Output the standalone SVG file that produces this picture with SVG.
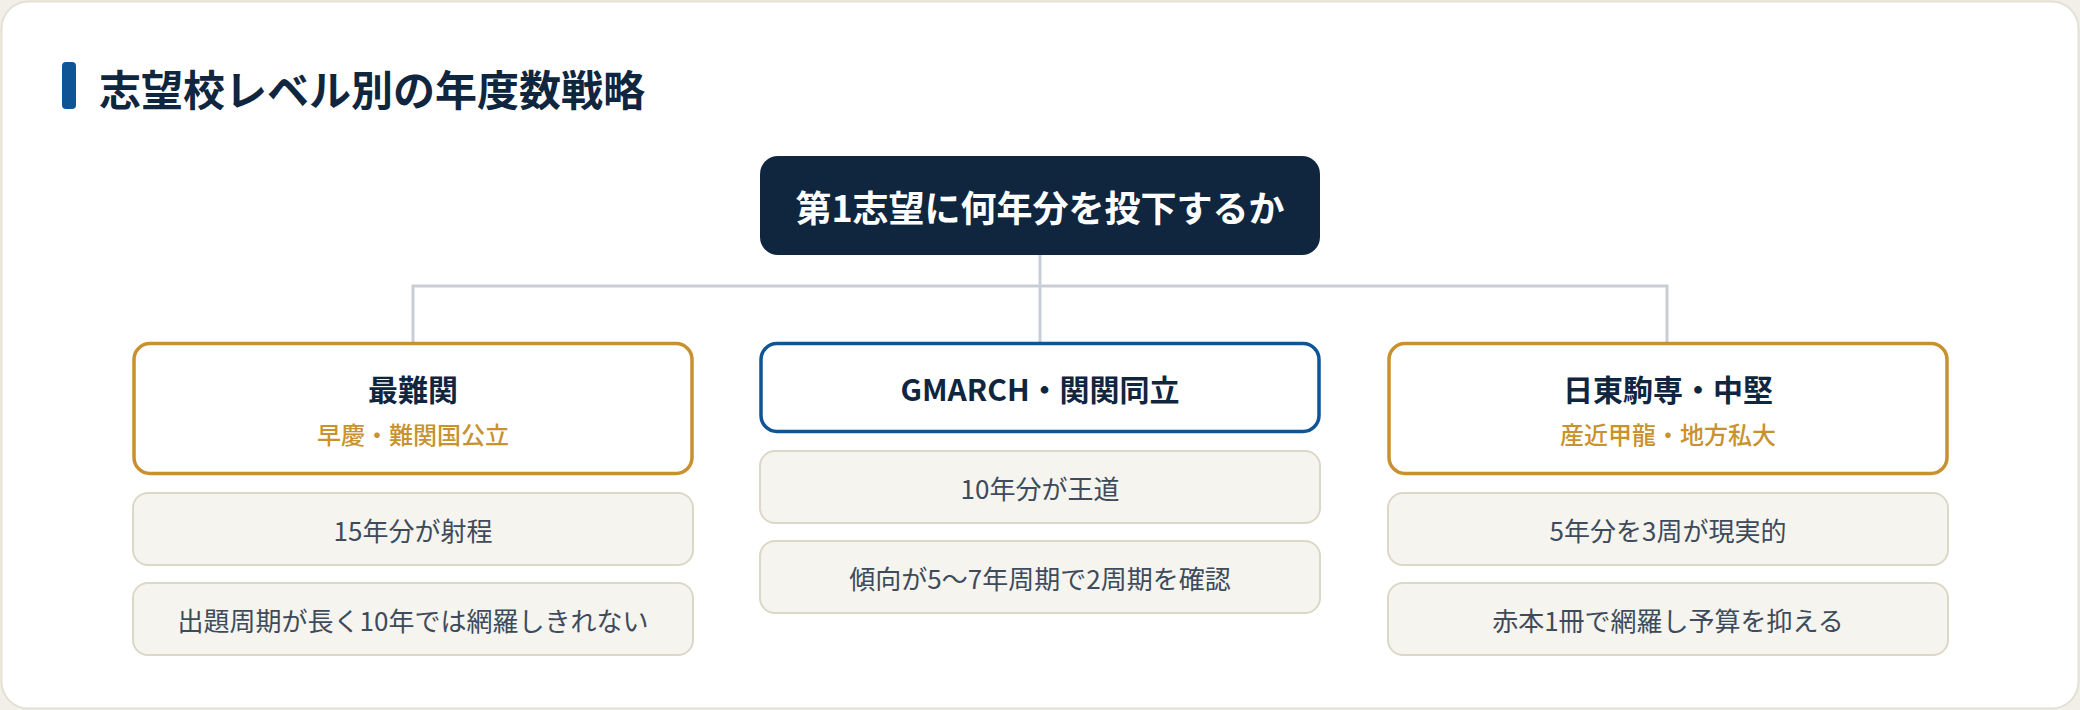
<svg xmlns="http://www.w3.org/2000/svg" width="2080" height="710" viewBox="0 0 2080 710">
<style>
text{font-family:"Noto Sans CJK JP","Noto Sans",sans-serif;dominant-baseline:central;text-anchor:middle}
.card{fill:#ffffff;stroke-width:3.5}
.gold{stroke:#c8902f}
.blue{stroke:#0f5596}
.item{fill:#f6f4ee;stroke:#dcd8c8;stroke-width:2}
.ct{font-size:30px;font-weight:700;fill:#10263f}
.cs{font-size:24px;font-weight:500;fill:#c8922f}
.it{font-size:26px;font-weight:400;fill:#3d4b5c}
.conn{stroke:#c8cdd6;stroke-width:3;fill:none}
</style>
<rect x="0" y="0" width="2080" height="710" fill="#f1efe8"/>
<rect x="1.5" y="1.5" width="2077" height="707" rx="27" fill="#ffffff" stroke="#e3e0d4" stroke-width="2"/>
<g id="title">
<rect x="62" y="62" width="14" height="47" rx="4" fill="#0f5596"/>
<text x="99" y="87" style="text-anchor:start;font-size:42px;font-weight:700;fill:#10263f">志望校レベル別の年度数戦略</text>
</g>
<g id="connectors">
<path class="conn" d="M1040 255 V342 M413 286 H1667 M413 284.5 V342 M1667 284.5 V342"/>
</g>
<g id="root">
<rect x="760" y="156" width="560" height="99" rx="18" fill="#10263f"/>
<text x="1040" y="206" style="font-size:36px;font-weight:700;fill:#ffffff">第1志望に何年分を投下するか</text>
</g>
<g id="col1">
<rect class="card gold" x="134" y="343.5" width="558" height="130" rx="16"/>
<text class="ct" x="413" y="388">最難関</text>
<text class="cs" x="413" y="433">早慶・難関国公立</text>
</g>
<g id="col1-item1">
<rect class="item" x="133" y="493" width="560" height="72" rx="15"/>
<text class="it" x="413" y="529">15年分が射程</text>
</g>
<g id="col1-item2">
<rect class="item" x="133" y="583" width="560" height="72" rx="15"/>
<text class="it" x="413" y="619">出題周期が長く10年では網羅しきれない</text>
</g>
<g id="col2">
<rect class="card blue" x="761" y="343.5" width="558" height="88" rx="16"/>
<text class="ct" x="1040" y="388">GMARCH・関関同立</text>
</g>
<g id="col2-item1">
<rect class="item" x="760" y="451" width="560" height="72" rx="15"/>
<text class="it" x="1040" y="487">10年分が王道</text>
</g>
<g id="col2-item2">
<rect class="item" x="760" y="541" width="560" height="72" rx="15"/>
<text class="it" x="1040" y="577">傾向が5〜7年周期で2周期を確認</text>
</g>
<g id="col3">
<rect class="card gold" x="1389" y="343.5" width="558" height="130" rx="16"/>
<text class="ct" x="1668" y="388">日東駒専・中堅</text>
<text class="cs" x="1668" y="433">産近甲龍・地方私大</text>
</g>
<g id="col3-item1">
<rect class="item" x="1388" y="493" width="560" height="72" rx="15"/>
<text class="it" x="1668" y="529">5年分を3周が現実的</text>
</g>
<g id="col3-item2">
<rect class="item" x="1388" y="583" width="560" height="72" rx="15"/>
<text class="it" x="1668" y="619">赤本1冊で網羅し予算を抑える</text>
</g>
</svg>
